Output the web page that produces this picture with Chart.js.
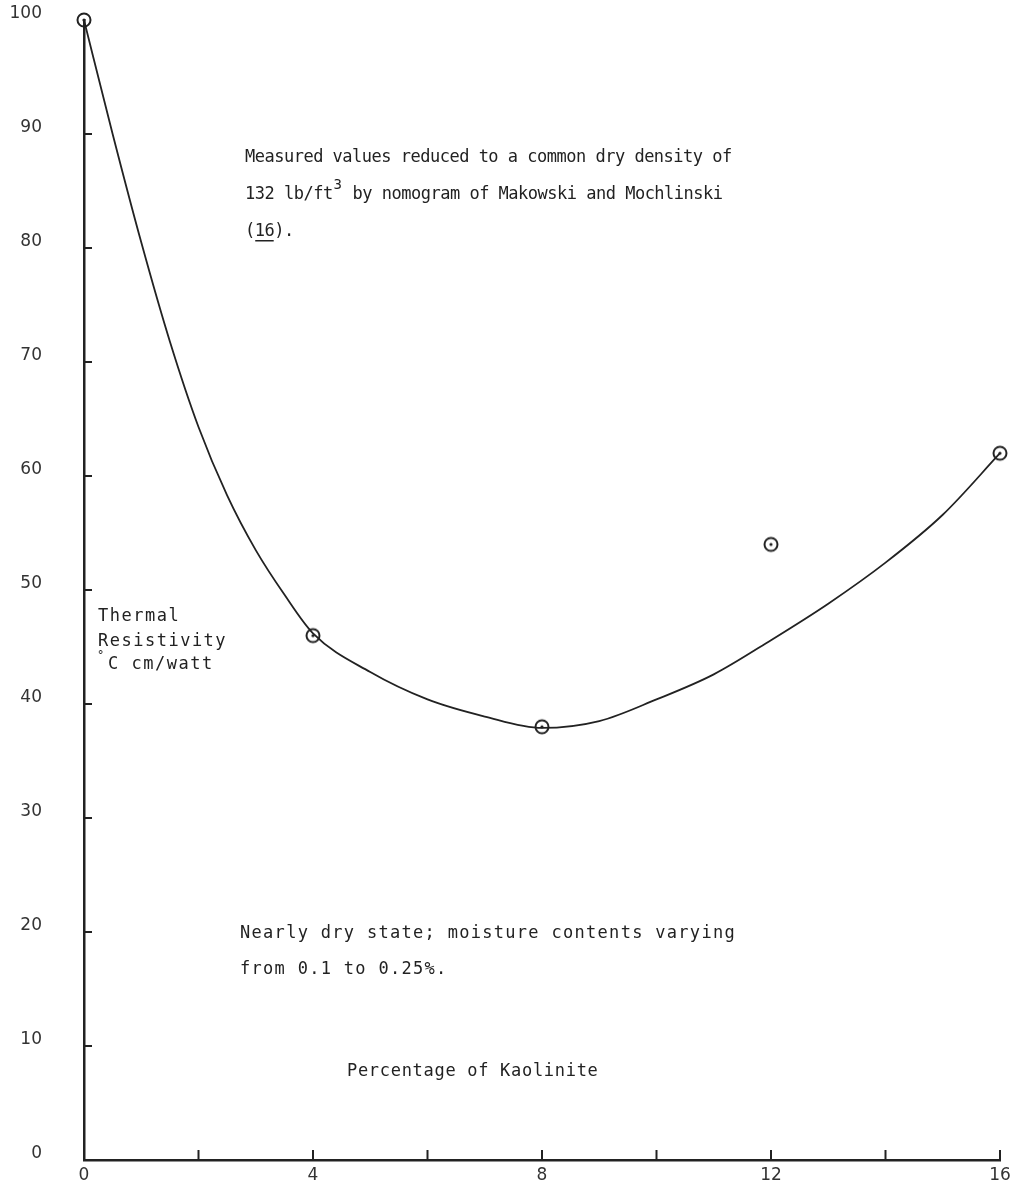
<!DOCTYPE html>
<html>
<head>
<meta charset="utf-8">
<title>Thermal resistivity vs kaolinite</title>
<script src="https://cdn.jsdelivr.net/npm/chart.js@4.4.1/dist/chart.umd.min.js"></script>
<style>
	body { margin: 0; background: #fff; }
	#chart { display: block; }
</style>
</head>
<body>
<canvas id="chart" width="1020" height="1186"></canvas>
<script>
// measured points (percentage of kaolinite, thermal resistivity)
const pointX = [0, 4, 8, 12, 16];
const pointY = [100, 46, 38, 54, 62];

// fitted curve
const curveX = [0, 0.5, 1, 1.5, 2, 2.5, 3, 3.5, 4, 5, 6, 7, 8, 9, 10, 11, 12, 13, 14, 15, 16];
const curveY = [100, 90, 80.5, 71.8, 64.3, 58.3, 53.5, 49.6, 46.2, 42.8, 40.4, 38.9, 37.9, 38.5, 40.4, 42.6, 45.6, 48.8, 52.4, 56.6, 62];

// axis ticks
const xTicks = [0, 2, 4, 6, 8, 10, 12, 14, 16];
const xLabels = ['0', '', '4', '', '8', '', '12', '', '16'];
const yTicks = [0, 10, 20, 30, 40, 50, 60, 70, 80, 90, 100];

const ink = '#222';

function toXY(xs, ys){
	var out = [];
	for(var i=0; i<xs.length; i++){
		out.push({x: xs[i], y: ys[i]});
	}
	return out;
}

// circle with a dot in the middle
function makeMarker(){
	var c = document.createElement('canvas');
	c.width = 20;
	c.height = 20;
	var g = c.getContext('2d');
	g.strokeStyle = ink;
	g.lineWidth = 2;
	g.beginPath();
	g.arc(10, 10, 6.5, 0, Math.PI*2);
	g.stroke();
	g.fillStyle = ink;
	g.beginPath();
	g.arc(10, 10, 1.6, 0, Math.PI*2);
	g.fill();
	return c;
}

// short tick marks on the inside of both axes
const innerTicks = {
	id: 'innerTicks',
	afterDraw: function(chart){
		var ctx = chart.ctx;
		var x = chart.scales.x;
		var y = chart.scales.y;
		var area = chart.chartArea;
		ctx.save();
		ctx.strokeStyle = ink;
		ctx.lineWidth = 2;
		for(var i=1; i<yTicks.length-1; i++){
			var py = y.getPixelForValue(yTicks[i]);
			ctx.beginPath();
			ctx.moveTo(area.left, py);
			ctx.lineTo(area.left + 8, py);
			ctx.stroke();
		}
		for(var j=1; j<xTicks.length; j++){
			var px = x.getPixelForValue(xTicks[j]);
			ctx.beginPath();
			ctx.moveTo(px, area.bottom);
			ctx.lineTo(px, area.bottom - 10);
			ctx.stroke();
		}
		ctx.restore();
	}
};

// the typed notes on the sheet
const notes = {
	id: 'notes',
	afterDraw: function(chart){
		var ctx = chart.ctx;
		ctx.save();
		ctx.fillStyle = ink;
		ctx.textAlign = 'left';
		ctx.textBaseline = 'alphabetic';

		ctx.font = '17px "DejaVu Sans Mono"';
		ctx.letterSpacing = '-0.5px';
		ctx.fillText('Measured values reduced to a common dry density of', 245, 162);
		var first = '132 lb/ft';
		ctx.fillText(first, 245, 199);
		var w = ctx.measureText(first).width;
		var cw = ctx.measureText('M').width + 0.5;
		ctx.font = '14px "DejaVu Sans Mono"';
		ctx.fillText('3', 245 + w + 1, 189);
		ctx.font = '17px "DejaVu Sans Mono"';
		ctx.fillText(' by nomogram of Makowski and Mochlinski', 245 + w + cw, 199);
		ctx.fillText('(16).', 245, 236);
		// underline under the reference number
		ctx.fillRect(245 + cw, 240, cw*2 - 2, 1.5);

		ctx.letterSpacing = '1.5px';
		ctx.fillText('Thermal', 98, 621);
		ctx.fillText('Resistivity', 98, 646);
		ctx.fillText('C cm/watt', 108, 669);
		ctx.font = '12px "DejaVu Sans Mono"';
		ctx.fillText('°', 97, 659);

		ctx.font = '17px "DejaVu Sans Mono"';
		ctx.letterSpacing = '1.3px';
		ctx.fillText('Nearly dry state; moisture contents varying', 240, 938);
		ctx.fillText('from 0.1 to 0.25%.', 240, 974);

		ctx.letterSpacing = '0.7px';
		ctx.fillText('Percentage of Kaolinite', 347, 1076);
		ctx.restore();
	}
};

const data = {
	datasets: [{
		label: 'Measured',
		data: toXY(pointX, pointY),
		showLine: false,
		pointStyle: makeMarker(),
		pointRadius: 10,
		clip: false,
		order: 0
	}, {
		label: 'Curve',
		data: toXY(curveX, curveY),
		borderColor: ink,
		borderWidth: 1.8,
		pointRadius: 0,
		cubicInterpolationMode: 'monotone',
		clip: false,
		order: 1
	}]
};

const config = {
	type: 'line',
	data: data,
	plugins: [innerTicks, notes],
	options: {
		responsive: false,
		animation: false,
		layout: {
			autoPadding: false,
			padding: { top: 20, right: 20, left: 0, bottom: 0 }
		},
		plugins: {
			legend: { display: false },
			tooltip: { enabled: false }
		},
		scales: {
			x: {
				type: 'linear',
				min: 0,
				max: 16,
				afterBuildTicks: function(scale){
					scale.ticks = xTicks.map(function(v){ return {value: v}; });
				},
				afterFit: function(scale){
					scale.height = 26;
				},
				grid: { display: false, drawTicks: false },
				border: { display: true, color: ink, width: 2.5 },
				ticks: {
					padding: 5,
					color: '#333',
					font: { family: 'DejaVu Sans', size: 17 },
					callback: function(value, index){
						return xLabels[index];
					}
				}
			},
			y: {
				type: 'linear',
				min: 0,
				max: 100,
				afterBuildTicks: function(scale){
					scale.ticks = yTicks.map(function(v){ return {value: v}; });
				},
				afterFit: function(scale){
					// the big label gap would otherwise pad the top and bottom too
					scale.width = 84;
					scale.paddingTop = 0;
					scale.paddingBottom = 0;
				},
				grid: { display: false, drawTicks: false },
				border: { display: true, color: ink, width: 2.5 },
				ticks: {
					padding: 42,
					labelOffset: -6,
					color: '#333',
					font: { family: 'DejaVu Sans', size: 17 }
				}
			}
		}
	}
};

const myChart = new Chart(
	document.getElementById('chart'),
	config
);
</script>
</body>
</html>
